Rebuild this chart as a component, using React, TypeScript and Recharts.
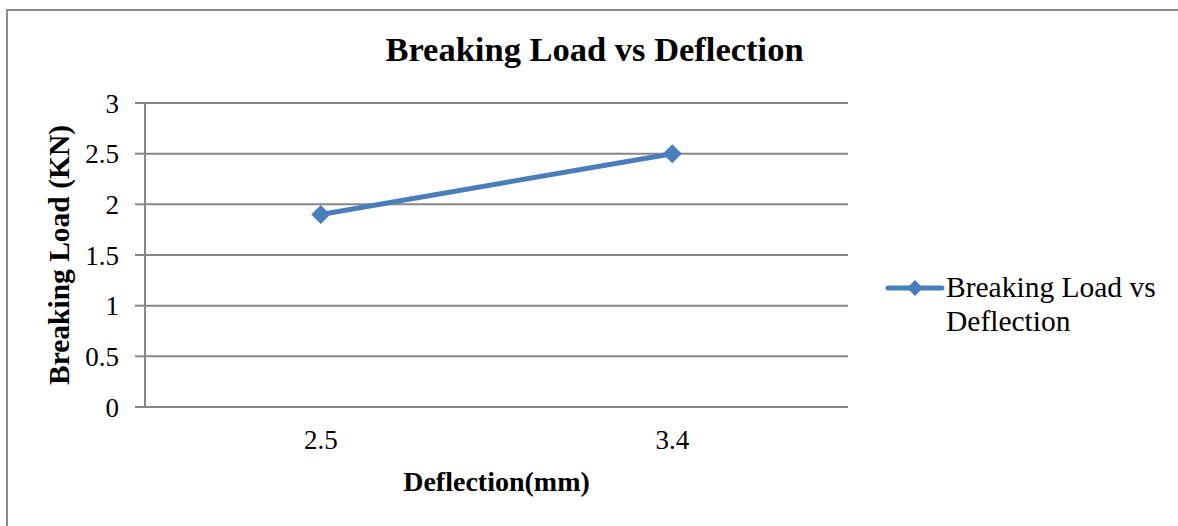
import React from 'react';
import {
  LineChart,
  Line,
  XAxis,
  YAxis,
  CartesianGrid,
} from 'recharts';

const deflections = ['2.5', '3.4'];
const breakingLoads = [1.9, 2.5];
const loadTicks = [0, 0.5, 1, 1.5, 2, 2.5, 3];
const seriesName = 'Breaking Load vs Deflection';

const chartData = deflections.map((d, i) => ({ deflection: d, load: breakingLoads[i] }));

const SERIF = "'Liberation Serif', 'Times New Roman', serif";
const BLUE = '#4a7ebb';
const GRID = '#878787';

const Diamond = (props: any) => {
  const { cx, cy, index } = props;
  if (cx == null || cy == null) return null;
  const r = 9.5;
  return (
    <polygon
      key={`dot-${index}`}
      points={`${cx},${cy - r} ${cx + r},${cy} ${cx},${cy + r} ${cx - r},${cy}`}
      fill={BLUE}
    />
  );
};

const YTitle = (props: any) => {
  const { viewBox } = props;
  const cy = viewBox.y + viewBox.height / 2;
  return (
    <text
      x={69}
      y={cy}
      transform={`rotate(-90, 69, ${cy})`}
      textAnchor="middle"
      fontFamily={SERIF}
      fontWeight="bold"
      fontSize={29.5}
      fill="#000"
    >
      Breaking Load (KN)
    </text>
  );
};

const XTitle = (props: any) => {
  const { viewBox } = props;
  const cx = viewBox.x + viewBox.width / 2;
  return (
    <text
      x={cx}
      y={491}
      textAnchor="middle"
      fontFamily={SERIF}
      fontWeight="bold"
      fontSize={28}
      fill="#000"
    >
      Deflection(mm)
    </text>
  );
};

export default function App() {
  return (
    <div
      style={{
        position: 'absolute',
        left: 0,
        top: 0,
        width: 1178,
        height: 526,
        overflow: 'hidden',
        background: '#fff',
      }}
    >
      {/* chart frame, clipped on the right and bottom */}
      <div
        style={{
          position: 'absolute',
          left: 6,
          top: 9,
          width: 1200,
          height: 600,
          border: '2px solid #8a8a8a',
        }}
      />
      <div style={{ position: 'absolute', left: 0, top: 0 }}>
        <LineChart
          width={1178}
          height={526}
          data={chartData}
          margin={{ top: 103, right: 330, bottom: 39, left: 0 }}
        >
          <CartesianGrid vertical={false} stroke={GRID} strokeWidth={2} />
          <XAxis
            dataKey="deflection"
            type="category"
            scale="band"
            height={80}
            axisLine={{ stroke: GRID, strokeWidth: 2 }}
            tickLine={false}
            tickSize={0}
            tickMargin={23}
            tick={{ fill: '#000', fontSize: 27, fontFamily: SERIF }}
            label={<XTitle />}
          />
          <YAxis
            domain={[0, 3]}
            ticks={loadTicks}
            width={145}
            axisLine={{ stroke: GRID, strokeWidth: 2 }}
            tickLine={{ stroke: GRID, strokeWidth: 2 }}
            tickSize={10}
            tickMargin={16}
            tick={{ fill: '#000', fontSize: 27, fontFamily: SERIF }}
            label={<YTitle />}
          />
          <Line
            type="linear"
            dataKey="load"
            name={seriesName}
            stroke={BLUE}
            strokeWidth={5}
            dot={Diamond}
            activeDot={false}
            isAnimationActive={false}
          />
        </LineChart>
      </div>
      <svg
        width={1178}
        height={526}
        style={{ position: 'absolute', left: 0, top: 0, pointerEvents: 'none' }}
      >
        <text
          x={594.5}
          y={61}
          textAnchor="middle"
          fontFamily={SERIF}
          fontWeight="bold"
          fontSize={34.5}
          fill="#000"
        >
          {seriesName}
        </text>
        {/* legend */}
        <line x1={888} y1={288} x2={942} y2={288} stroke={BLUE} strokeWidth={5} strokeLinecap="round" />
        <polygon points="915,280 923,288 915,296 907,288" fill={BLUE} />
        <text x={946} y={297} fontFamily={SERIF} fontSize={29.5} fill="#000">
          Breaking Load vs
        </text>
        <text x={946} y={331} fontFamily={SERIF} fontSize={29.5} fill="#000">
          Deflection
        </text>
      </svg>
    </div>
  );
}
